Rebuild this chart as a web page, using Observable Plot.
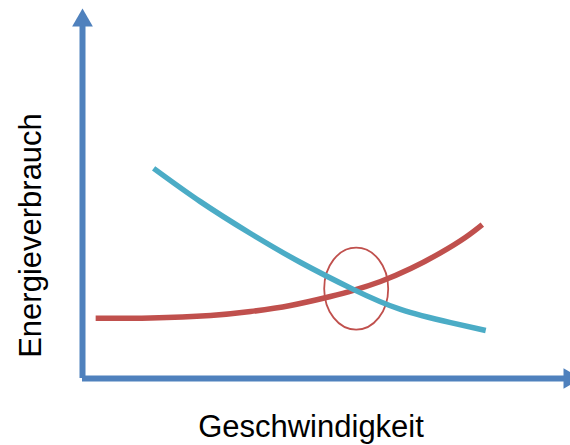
<!DOCTYPE html>
<html><head><meta charset="utf-8">
<script src="https://cdn.jsdelivr.net/npm/d3@7"></script>
<script src="https://cdn.jsdelivr.net/npm/@observablehq/plot@0.6"></script>
<style>body{margin:0;background:#fff;}</style>
</head><body><div id="chart"></div>
<script>
// Data (abstract units: speed 0..10, energy 0..10)
const speedBlue  = [1.46, 2.42, 3.45, 4.48, 5.56, 6.53, 7.56, 8.28];
const energyBlue = [5.87, 4.94, 4.05, 3.24, 2.49, 1.93, 1.56, 1.34];
const speedRed   = [0.27, 1.40, 2.63, 3.45, 4.27, 5.09, 5.56, 6.12, 6.74, 7.35, 7.86, 8.21];
const energyRed  = [1.68, 1.69, 1.76, 1.87, 2.04, 2.29, 2.46, 2.71, 3.07, 3.51, 3.94, 4.30];
const crossingX = [5.62];
const crossingY = [2.51];
const axisMax = 10;
const xLabel = "Geschwindigkeit";
const yLabel = "Energieverbrauch";

const axisColor = "#4F81BD";
const blueColor = "#4BACC6";
const redColor = "#C0504D";

const blueData = speedBlue.map((x, i) => ({x, y: energyBlue[i]}));
const redData = speedRed.map((x, i) => ({x, y: energyRed[i]}));
const crossData = crossingX.map((x, i) => ({x, y: crossingY[i]}));

const ellipseSymbol = {
  draw(context, size) {
    const rx = Math.sqrt(size / Math.PI);
    const ry = rx * 1.28;
    const k = 0.5522847;
    context.moveTo(rx, 0);
    context.bezierCurveTo(rx, ry * k, rx * k, ry, 0, ry);
    context.bezierCurveTo(-rx * k, ry, -rx, ry * k, -rx, 0);
    context.bezierCurveTo(-rx, -ry * k, -rx * k, -ry, 0, -ry);
    context.bezierCurveTo(rx * k, -ry, rx, -ry * k, rx, 0);
    context.closePath();
  }
};

const font = "'Liberation Sans', Arial, sans-serif";

const chart = Plot.plot({
  width: 570,
  height: 445,
  marginLeft: 82,
  marginRight: 1,
  marginTop: 20,
  marginBottom: 67,
  style: {fontFamily: font, background: "#fff"},
  x: {domain: [0, axisMax], axis: null},
  y: {domain: [0, axisMax], axis: null},
  marks: [
    Plot.ruleX([0], {y1: 0, y2: axisMax, stroke: axisColor, strokeWidth: 6}),
    Plot.ruleY([0], {x1: 0, x2: axisMax, stroke: axisColor, strokeWidth: 6}),
    Plot.dot([{x: 0, y: axisMax}], {x: "x", y: "y", symbol: "triangle", r: 7.7, fill: axisColor, stroke: "none"}),
    Plot.dot([{x: axisMax, y: 0}], {x: "x", y: "y", symbol: "triangle", r: 7.7, rotate: 90, fill: axisColor, stroke: "none"}),
    Plot.dot(crossData, {x: "x", y: "y", symbol: ellipseSymbol, r: 32, fill: "none", stroke: redColor, strokeWidth: 1.8}),
    Plot.line(redData, {x: "x", y: "y", stroke: redColor, strokeWidth: 5.5, curve: "natural", strokeLinecap: "butt"}),
    Plot.line(blueData, {x: "x", y: "y", stroke: blueColor, strokeWidth: 5.5, curve: "natural", strokeLinecap: "butt"}),
    Plot.text([yLabel], {text: d => d, frameAnchor: "left", textAnchor: "middle", lineAnchor: "middle", rotate: -90, dx: -51, dy: 36, fontSize: 31, fill: "#000", fontFamily: font}),
    Plot.text([xLabel], {text: d => d, frameAnchor: "bottom", textAnchor: "middle", lineAnchor: "middle", dx: -15, dy: 49, fontSize: 31, fill: "#000", fontFamily: font})
  ]
});
document.getElementById("chart").appendChild(chart);
</script>
</body></html>
